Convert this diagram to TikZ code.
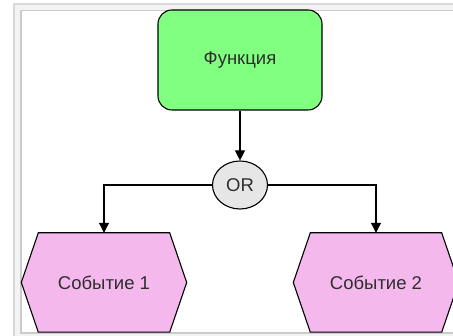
\documentclass[tikz,border=0pt]{standalone}
\usepackage{fontspec}
\setmainfont{Liberation Sans}
\usetikzlibrary{arrows.meta,shapes.geometric,backgrounds}

\definecolor{funcgreen}{HTML}{80FF80}
\definecolor{eventpink}{HTML}{F5B8EC}
\definecolor{orgray}{HTML}{E6E6E6}
\definecolor{labelgray}{HTML}{2E2E2E}
\definecolor{frameband}{HTML}{F3F3F3}
\definecolor{frameouter}{HTML}{D8D8D8}
\definecolor{frameinner}{HTML}{CCCCCC}

\tikzset{
  lbl/.style={font=\fontsize{18.5}{22}\selectfont, text=labelgray},
  funcbox/.style={lbl, draw=black, line width=1.1pt, fill=funcgreen,
    rounded corners=14pt, minimum width=164pt, minimum height=100pt, inner sep=0pt},
  orgate/.style={lbl, ellipse, draw=black, line width=1.1pt, fill=orgray,
    minimum width=55pt, minimum height=48pt, inner sep=0pt},
  eventcore/.style={lbl, minimum width=131pt, minimum height=99pt, inner sep=0pt},
  hexline/.style={draw=black, line width=1.1pt, fill=eventpink},
  flow/.style={draw=black, line width=1.1pt, -{Triangle[length=10pt,width=10pt]}}
}

% hexagonal outline around an event node, chamfer of 17pt at the sides
\newcommand{\eventhex}[1]{%
  \path[hexline] (#1.north west) -- (#1.north east) -- ([xshift=17pt]#1.east)
    -- (#1.south east) -- (#1.south west) -- ([xshift=-17pt]#1.west) -- cycle;}

\begin{document}
\begin{tikzpicture}[x=1pt, y=-1pt]
  \useasboundingbox (0,0) rectangle (453,336);
  \clip (0,0) rectangle (453,336);

  % nodes
  \node[funcbox] (f) at (240,60) {Функция};
  \node[orgate] (or) at (240,185) {OR};
  \node[eventcore] (e1) at (104,282.5) {Событие 1};
  \node[eventcore] (e2) at (376,282.5) {Событие 2};

  \begin{scope}[on background layer]
    % window frame
    \draw[frameouter, fill=frameband, line width=1.2pt] (14,4) rectangle (470,350);
    \draw[frameinner, fill=white, line width=1.2pt] (21,10.5) rectangle (465,333);
    % event outlines
    \eventhex{e1}
    \eventhex{e2}
  \end{scope}

  % connectors
  \draw[flow] (f) -- (or);
  \draw[flow] (or) -| (e1);
  \draw[flow] (or) -| (e2);
\end{tikzpicture}
\end{document}
